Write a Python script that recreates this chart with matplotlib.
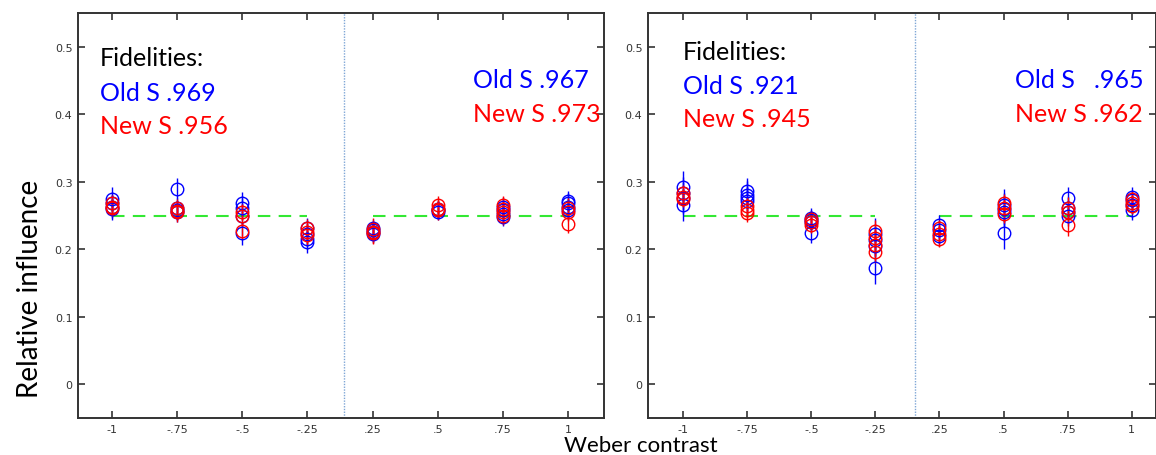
import matplotlib.pyplot as plt

# Weber contrast categories (x positions 1..8, gap in the middle)
contrast_labels = ['-1', '-.75', '-.5', '-.25', '.25', '.5', '.75', '1']
positions = [1, 2, 3, 4, 5, 6, 7, 8]
ref_level = 0.25
y_ticks = [0, 0.1, 0.2, 0.3, 0.4, 0.5]

# left panel: relative influence per subject at each contrast
left_old = [[0.275, 0.268, 0.263, 0.260],
            [0.290, 0.261, 0.258, 0.256],
            [0.268, 0.262, 0.250, 0.224],
            [0.231, 0.223, 0.216, 0.211],
            [0.232, 0.228, 0.225, 0.222],
            [0.260, 0.258, 0.256],
            [0.263, 0.258, 0.253, 0.248],
            [0.272, 0.268, 0.263, 0.258]]
left_new = [[0.268, 0.263, 0.261],
            [0.261, 0.257, 0.255],
            [0.255, 0.250, 0.227],
            [0.231, 0.226, 0.221],
            [0.230, 0.226, 0.224],
            [0.265, 0.260, 0.258],
            [0.265, 0.260, 0.255, 0.250],
            [0.262, 0.256, 0.238]]
left_old_err = [0.017, 0.015, 0.017, 0.016, 0.013, 0.013, 0.014, 0.015]
left_new_err = [0.012, 0.014, 0.012, 0.014, 0.016, 0.014, 0.014, 0.014]

# right panel
right_old = [[0.292, 0.283, 0.276, 0.266],
             [0.286, 0.281, 0.276, 0.271],
             [0.247, 0.244, 0.240, 0.224],
             [0.222, 0.214, 0.205, 0.173],
             [0.236, 0.228, 0.220],
             [0.266, 0.260, 0.255, 0.224],
             [0.276, 0.262, 0.256, 0.250],
             [0.278, 0.273, 0.266, 0.258]]
right_new = [[0.283, 0.278, 0.275],
             [0.264, 0.259, 0.254],
             [0.245, 0.240, 0.236],
             [0.227, 0.217, 0.206, 0.196],
             [0.232, 0.222, 0.216],
             [0.268, 0.262, 0.253],
             [0.262, 0.255, 0.236],
             [0.274, 0.268, 0.264]]
right_old_err = [0.024, 0.020, 0.015, 0.024, 0.015, 0.024, 0.016, 0.014]
right_new_err = [0.012, 0.014, 0.012, 0.016, 0.012, 0.014, 0.016, 0.012]

left_fid = ['.969', '.956', '.967', '.973']
right_fid = ['.921', '.945', '  .965', '.962']

plt.rcParams['font.family'] = ['Lato', 'DejaVu Sans']

fig = plt.figure(figsize=(11.56, 4.56), dpi=100)
ax1 = fig.add_axes([0.0675, 0.081, 0.455, 0.888])
ax2 = fig.add_axes([0.5606, 0.081, 0.4394, 0.888])


def draw_group(ax, vals_list, errs, color):
    for pos, vals, e in zip(positions, vals_list, errs):
        ax.errorbar([pos] * len(vals), vals, yerr=e, fmt='o', ms=9,
                    mfc='none', mec=color, mew=1.0, ecolor=color,
                    elinewidth=1.0, capsize=0, zorder=3)


def draw_panel(ax, old_vals, new_vals, old_err, new_err, xlim, split):
    ax.plot([positions[0], positions[3]], [ref_level, ref_level], '--',
            color='#33e833', lw=1.5, dashes=(6, 4), zorder=2)
    ax.plot([positions[4], positions[7]], [ref_level, ref_level], '--',
            color='#33e833', lw=1.5, dashes=(6, 4), zorder=2)
    draw_group(ax, old_vals, old_err, 'blue')
    draw_group(ax, new_vals, new_err, 'red')
    ax.axvline(split, color='#7fa6d6', lw=1.0, ls=(0, (1, 1)), zorder=1)

    ax.set_xlim(*xlim)
    ax.set_ylim(-0.05, 0.55)
    ax.set_xticks(positions)
    ax.set_xticklabels(contrast_labels)
    ax.set_yticks(y_ticks)
    ax.set_yticklabels(['0', '0.1', '0.2', '0.3', '0.4', '0.5'])
    ax.tick_params(direction='in', length=5, width=1.2, colors='#333333',
                   top=True, right=True, labelsize=8, pad=4)
    for lab in ax.get_xticklabels() + ax.get_yticklabels():
        lab.set_family(['Liberation Sans Narrow', 'DejaVu Sans'])
    for sp in ax.spines.values():
        sp.set_color('#333333')
        sp.set_linewidth(1.4)


draw_panel(ax1, left_old, left_new, left_old_err, left_new_err,
           (0.48, 8.55), 4.56)
draw_panel(ax2, right_old, right_new, right_old_err, right_new_err,
           (0.45, 8.38), 4.61)

# fidelity annotations
fs = 18
ax1.text(0.042, 0.891, 'Fidelities:', transform=ax1.transAxes, fontsize=fs,
         color='black', va='center')
ax1.text(0.042, 0.805, 'Old S ' + left_fid[0], transform=ax1.transAxes,
         fontsize=fs, color='blue', va='center')
ax1.text(0.042, 0.723, 'New S ' + left_fid[1], transform=ax1.transAxes,
         fontsize=fs, color='red', va='center')
ax1.text(0.751, 0.835, 'Old S ' + left_fid[2], transform=ax1.transAxes,
         fontsize=fs, color='blue', va='center')
ax1.text(0.751, 0.751, 'New S ' + left_fid[3], transform=ax1.transAxes,
         fontsize=fs, color='red', va='center', clip_on=False, zorder=5)

ax2.text(0.069, 0.906, 'Fidelities:', transform=ax2.transAxes, fontsize=fs,
         color='black', va='center')
ax2.text(0.069, 0.822, 'Old S ' + right_fid[0], transform=ax2.transAxes,
         fontsize=fs, color='blue', va='center')
ax2.text(0.069, 0.741, 'New S ' + right_fid[1], transform=ax2.transAxes,
         fontsize=fs, color='red', va='center')
ax2.text(0.722, 0.835, 'Old S ' + right_fid[2], transform=ax2.transAxes,
         fontsize=fs, color='blue', va='center')
ax2.text(0.722, 0.751, 'New S ' + right_fid[3], transform=ax2.transAxes,
         fontsize=fs, color='red', va='center')

fig.text(0.026, 0.366, 'Relative influence', rotation=90, fontsize=20,
         ha='center', va='center')
fig.text(0.554, 0.022, 'Weber contrast', fontsize=16, ha='center',
         va='center')

fig.savefig('out.png', dpi=100)
